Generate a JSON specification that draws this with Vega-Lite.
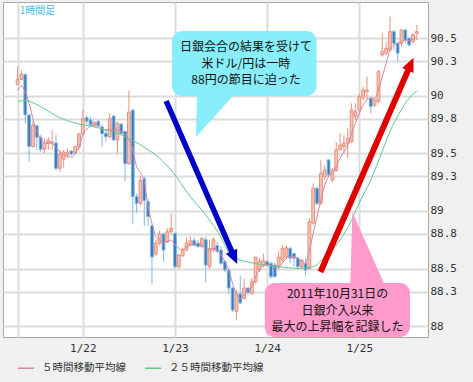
{
"$schema":"https://vega.github.io/schema/vega-lite/v6.json",
"width":425,"height":335,
"autosize":{"type":"none"},
"padding":{"left":3,"top":2,"right":45,"bottom":45},
"background":"#f0f0f0",
"config":{"view":{"stroke":"#a6a6a6","fill":"#ffffff"}},
"datasets":{
"candles":[
{"h":7,"o":90.1,"c":90.143,"hi":90.253,"lo":90.088,"d":"up"},
{"h":8,"o":90.143,"c":90.187,"hi":90.22,"lo":90.14,"d":"up"},
{"h":9,"o":90.187,"c":89.834,"hi":90.19,"lo":89.76,"d":"down"},
{"h":10,"o":89.834,"c":89.56,"hi":89.84,"lo":89.43,"d":"down"},
{"h":11,"o":89.56,"c":89.746,"hi":89.78,"lo":89.55,"d":"up"},
{"h":12,"o":89.74,"c":89.64,"hi":89.74,"lo":89.53,"d":"down"},
{"h":13,"o":89.64,"c":89.535,"hi":89.66,"lo":89.515,"d":"down"},
{"h":14,"o":89.535,"c":89.59,"hi":89.63,"lo":89.5,"d":"up"},
{"h":15,"o":89.585,"c":89.615,"hi":89.64,"lo":89.53,"d":"up"},
{"h":16,"o":89.59,"c":89.6,"hi":89.7,"lo":89.53,"d":"up"},
{"h":17,"o":89.59,"c":89.37,"hi":89.66,"lo":89.35,"d":"down"},
{"h":18,"o":89.37,"c":89.494,"hi":89.53,"lo":89.34,"d":"up"},
{"h":19,"o":89.45,"c":89.51,"hi":89.53,"lo":89.38,"d":"up"},
{"h":20,"o":89.49,"c":89.51,"hi":89.54,"lo":89.46,"d":"up"},
{"h":21,"o":89.52,"c":89.495,"hi":89.53,"lo":89.48,"d":"down"},
{"h":22,"o":89.505,"c":89.558,"hi":89.57,"lo":89.49,"d":"up"},
{"h":23,"o":89.558,"c":89.668,"hi":89.68,"lo":89.53,"d":"up"},
{"h":24,"o":89.668,"c":89.8,"hi":89.877,"lo":89.66,"d":"up"},
{"h":25,"o":89.81,"c":89.78,"hi":89.83,"lo":89.75,"d":"down"},
{"h":26,"o":89.79,"c":89.75,"hi":89.82,"lo":89.73,"d":"down"},
{"h":27,"o":89.74,"c":89.77,"hi":89.78,"lo":89.72,"d":"up"},
{"h":28,"o":89.776,"c":89.738,"hi":89.79,"lo":89.73,"d":"down"},
{"h":29,"o":89.73,"c":89.67,"hi":89.75,"lo":89.56,"d":"down"},
{"h":30,"o":89.674,"c":89.645,"hi":89.7,"lo":89.6,"d":"down"},
{"h":31,"o":89.645,"c":89.8,"hi":89.85,"lo":89.63,"d":"up"},
{"h":32,"o":89.825,"c":89.616,"hi":89.83,"lo":89.61,"d":"down"},
{"h":33,"o":89.616,"c":89.76,"hi":89.775,"lo":89.5,"d":"up"},
{"h":34,"o":89.755,"c":89.674,"hi":89.76,"lo":89.66,"d":"down"},
{"h":35,"o":89.69,"c":89.41,"hi":89.7,"lo":89.26,"d":"down"},
{"h":36,"o":89.41,"c":89.86,"hi":90.045,"lo":89.4,"d":"up"},
{"h":37,"o":89.877,"c":89.124,"hi":89.88,"lo":88.89,"d":"down"},
{"h":38,"o":89.124,"c":89.066,"hi":89.15,"lo":88.98,"d":"down"},
{"h":39,"o":89.066,"c":89.263,"hi":89.3,"lo":89.05,"d":"up"},
{"h":40,"o":89.28,"c":89.09,"hi":89.3,"lo":88.87,"d":"down"},
{"h":41,"o":89.08,"c":88.95,"hi":89.1,"lo":88.87,"d":"down"},
{"h":42,"o":88.87,"c":88.6,"hi":88.88,"lo":88.36,"d":"down"},
{"h":43,"o":88.626,"c":88.72,"hi":88.75,"lo":88.61,"d":"up"},
{"h":44,"o":88.72,"c":88.8,"hi":88.83,"lo":88.7,"d":"up"},
{"h":45,"o":88.8,"c":88.66,"hi":88.81,"lo":88.56,"d":"down"},
{"h":46,"o":88.73,"c":88.82,"hi":88.85,"lo":88.72,"d":"up"},
{"h":47,"o":88.82,"c":88.85,"hi":88.98,"lo":88.8,"d":"up"},
{"h":48,"o":88.805,"c":88.515,"hi":88.81,"lo":88.5,"d":"down"},
{"h":49,"o":88.515,"c":88.617,"hi":88.63,"lo":88.5,"d":"up"},
{"h":50,"o":88.61,"c":88.66,"hi":88.68,"lo":88.6,"d":"up"},
{"h":51,"o":88.66,"c":88.72,"hi":88.77,"lo":88.65,"d":"up"},
{"h":52,"o":88.705,"c":88.74,"hi":88.78,"lo":88.69,"d":"up"},
{"h":53,"o":88.745,"c":88.7,"hi":88.77,"lo":88.69,"d":"down"},
{"h":54,"o":88.72,"c":88.69,"hi":88.75,"lo":88.68,"d":"down"},
{"h":55,"o":88.69,"c":88.76,"hi":88.78,"lo":88.68,"d":"up"},
{"h":56,"o":88.75,"c":88.53,"hi":88.78,"lo":88.38,"d":"down"},
{"h":57,"o":88.515,"c":88.675,"hi":88.75,"lo":88.5,"d":"up"},
{"h":58,"o":88.66,"c":88.75,"hi":88.77,"lo":88.64,"d":"up"},
{"h":59,"o":88.7,"c":88.65,"hi":88.73,"lo":88.63,"d":"down"},
{"h":60,"o":88.66,"c":88.545,"hi":88.69,"lo":88.53,"d":"down"},
{"h":61,"o":88.56,"c":88.487,"hi":88.58,"lo":88.47,"d":"down"},
{"h":62,"o":88.487,"c":88.33,"hi":88.5,"lo":88.28,"d":"down"},
{"h":63,"o":88.33,"c":88.14,"hi":88.34,"lo":88.12,"d":"down"},
{"h":64,"o":88.125,"c":88.28,"hi":88.31,"lo":88.05,"d":"up"},
{"h":65,"o":88.28,"c":88.2,"hi":88.44,"lo":88.19,"d":"down"},
{"h":66,"o":88.24,"c":88.33,"hi":88.41,"lo":88.23,"d":"up"},
{"h":67,"o":88.33,"c":88.29,"hi":88.34,"lo":88.27,"d":"down"},
{"h":68,"o":88.285,"c":88.385,"hi":88.42,"lo":88.27,"d":"up"},
{"h":69,"o":88.385,"c":88.6,"hi":88.6,"lo":88.37,"d":"up"},
{"h":70,"o":88.49,"c":88.56,"hi":88.59,"lo":88.47,"d":"up"},
{"h":71,"o":88.53,"c":88.57,"hi":88.63,"lo":88.51,"d":"up"},
{"h":72,"o":88.56,"c":88.53,"hi":88.57,"lo":88.52,"d":"down"},
{"h":73,"o":88.545,"c":88.43,"hi":88.56,"lo":88.41,"d":"down"},
{"h":74,"o":88.53,"c":88.43,"hi":88.55,"lo":88.42,"d":"down"},
{"h":75,"o":88.515,"c":88.6,"hi":88.65,"lo":88.49,"d":"up"},
{"h":76,"o":88.575,"c":88.675,"hi":88.7,"lo":88.56,"d":"up"},
{"h":77,"o":88.6,"c":88.68,"hi":88.7,"lo":88.59,"d":"up"},
{"h":78,"o":88.675,"c":88.59,"hi":88.69,"lo":88.545,"d":"down"},
{"h":79,"o":88.63,"c":88.59,"hi":88.64,"lo":88.52,"d":"down"},
{"h":80,"o":88.59,"c":88.516,"hi":88.6,"lo":88.49,"d":"down"},
{"h":81,"o":88.516,"c":88.574,"hi":88.58,"lo":88.5,"d":"up"},
{"h":82,"o":88.545,"c":88.487,"hi":88.59,"lo":88.43,"d":"down"},
{"h":83,"o":88.5,"c":88.907,"hi":88.936,"lo":88.49,"d":"up"},
{"h":84,"o":88.893,"c":89.197,"hi":89.24,"lo":88.88,"d":"up"},
{"h":85,"o":89.197,"c":89.066,"hi":89.21,"lo":89.05,"d":"down"},
{"h":86,"o":89.066,"c":89.327,"hi":89.44,"lo":89.05,"d":"up"},
{"h":87,"o":89.3,"c":89.356,"hi":89.4,"lo":89.27,"d":"up"},
{"h":88,"o":89.443,"c":89.312,"hi":89.45,"lo":89.3,"d":"down"},
{"h":89,"o":89.269,"c":89.356,"hi":89.37,"lo":89.25,"d":"up"},
{"h":90,"o":89.35,"c":89.53,"hi":89.6,"lo":89.34,"d":"up"},
{"h":91,"o":89.53,"c":89.573,"hi":89.675,"lo":89.53,"d":"up"},
{"h":92,"o":89.559,"c":89.588,"hi":89.66,"lo":89.5,"d":"up"},
{"h":93,"o":89.588,"c":89.631,"hi":89.72,"lo":89.46,"d":"up"},
{"h":94,"o":89.602,"c":89.877,"hi":89.935,"lo":89.59,"d":"up"},
{"h":95,"o":89.82,"c":89.862,"hi":89.935,"lo":89.79,"d":"up"},
{"h":96,"o":89.877,"c":89.993,"hi":90.02,"lo":89.86,"d":"up"},
{"h":97,"o":89.98,"c":90.05,"hi":90.08,"lo":89.96,"d":"up"},
{"h":98,"o":90.036,"c":90.05,"hi":90.167,"lo":89.964,"d":"up"},
{"h":99,"o":89.979,"c":89.906,"hi":89.993,"lo":89.85,"d":"down"},
{"h":100,"o":89.92,"c":89.964,"hi":89.98,"lo":89.9,"d":"up"},
{"h":101,"o":89.95,"c":90.21,"hi":90.225,"lo":89.935,"d":"up"},
{"h":102,"o":90.355,"c":90.384,"hi":90.543,"lo":90.34,"d":"up"},
{"h":103,"o":90.37,"c":90.413,"hi":90.47,"lo":90.355,"d":"up"},
{"h":104,"o":90.398,"c":90.558,"hi":90.688,"lo":90.384,"d":"up"},
{"h":105,"o":90.558,"c":90.456,"hi":90.572,"lo":90.398,"d":"down"},
{"h":106,"o":90.456,"c":90.37,"hi":90.47,"lo":90.3,"d":"down"},
{"h":107,"o":90.456,"c":90.572,"hi":90.578,"lo":90.427,"d":"up"},
{"h":108,"o":90.572,"c":90.485,"hi":90.578,"lo":90.456,"d":"down"},
{"h":109,"o":90.5,"c":90.442,"hi":90.51,"lo":90.427,"d":"down"},
{"h":110,"o":90.47,"c":90.53,"hi":90.543,"lo":90.456,"d":"up"},
{"h":111,"o":90.543,"c":90.558,"hi":90.615,"lo":90.485,"d":"up"}
],
"ma":[
{"h":7,"s":"５時間移動平均線","v":90.045},{"h":8,"s":"５時間移動平均線","v":90.085},{"h":9,"s":"５時間移動平均線","v":90.036},{"h":10,"s":"５時間移動平均線","v":89.935},{"h":11,"s":"５時間移動平均線","v":89.8},{"h":12,"s":"５時間移動平均線","v":89.69},{"h":13,"s":"５時間移動平均線","v":89.63},{"h":14,"s":"５時間移動平均線","v":89.593},{"h":15,"s":"５時間移動平均線","v":89.593},{"h":16,"s":"５時間移動平均線","v":89.587},{"h":17,"s":"５時間移動平均線","v":89.55},{"h":18,"s":"５時間移動平均線","v":89.515},{"h":19,"s":"５時間移動平均線","v":89.486},{"h":20,"s":"５時間移動平均線","v":89.477},{"h":21,"s":"５時間移動平均線","v":89.466},{"h":22,"s":"５時間移動平均線","v":89.5},{"h":23,"s":"５時間移動平均線","v":89.558},{"h":24,"s":"５時間移動平均線","v":89.66},{"h":25,"s":"５時間移動平均線","v":89.71},{"h":26,"s":"５時間移動平均線","v":89.737},{"h":27,"s":"５時間移動平均線","v":89.752},{"h":28,"s":"５時間移動平均線","v":89.746},{"h":29,"s":"５時間移動平均線","v":89.717},{"h":30,"s":"５時間移動平均線","v":89.703},{"h":31,"s":"５時間移動平均線","v":89.71},{"h":32,"s":"５時間移動平均線","v":89.703},{"h":33,"s":"５時間移動平均線","v":89.703},{"h":34,"s":"５時間移動平均線","v":89.69},{"h":35,"s":"５時間移動平均線","v":89.66},{"h":36,"s":"５時間移動平均線","v":89.62},{"h":37,"s":"５時間移動平均線","v":89.53},{"h":38,"s":"５時間移動平均線","v":89.385},{"h":39,"s":"５時間移動平均線","v":89.33},{"h":40,"s":"５時間移動平均線","v":89.254},{"h":41,"s":"５時間移動平均線","v":89.037},{"h":42,"s":"５時間移動平均線","v":88.892},{"h":43,"s":"５時間移動平均線","v":88.776},{"h":44,"s":"５時間移動平均線","v":88.747},{"h":45,"s":"５時間移動平均線","v":88.724},{"h":46,"s":"５時間移動平均線","v":88.733},{"h":47,"s":"５時間移動平均線","v":88.747},{"h":48,"s":"５時間移動平均線","v":88.704},{"h":49,"s":"５時間移動平均線","v":88.675},{"h":50,"s":"５時間移動平均線","v":88.66},{"h":51,"s":"５時間移動平均線","v":88.684},{"h":52,"s":"５時間移動平均線","v":88.704},{"h":53,"s":"５時間移動平均線","v":88.718},{"h":54,"s":"５時間移動平均線","v":88.718},{"h":55,"s":"５時間移動平均線","v":88.704},{"h":56,"s":"５時間移動平均線","v":88.675},{"h":57,"s":"５時間移動平均線","v":88.66},{"h":58,"s":"５時間移動平均線","v":88.675},{"h":59,"s":"５時間移動平均線","v":88.666},{"h":60,"s":"５時間移動平均線","v":88.617},{"h":61,"s":"５時間移動平均線","v":88.559},{"h":62,"s":"５時間移動平均線","v":88.487},{"h":63,"s":"５時間移動平均線","v":88.371},{"h":64,"s":"５時間移動平均線","v":88.284},{"h":65,"s":"５時間移動平均線","v":88.24},{"h":66,"s":"５時間移動平均線","v":88.27},{"h":67,"s":"５時間移動平均線","v":88.313},{"h":68,"s":"５時間移動平均線","v":88.342},{"h":69,"s":"５時間移動平均線","v":88.43},{"h":70,"s":"５時間移動平均線","v":88.487},{"h":71,"s":"５時間移動平均線","v":88.53},{"h":72,"s":"５時間移動平均線","v":88.539},{"h":73,"s":"５時間移動平均線","v":88.53},{"h":74,"s":"５時間移動平均線","v":88.51},{"h":75,"s":"５時間移動平均線","v":88.516},{"h":76,"s":"５時間移動平均線","v":88.55},{"h":77,"s":"５時間移動平均線","v":88.588},{"h":78,"s":"５時間移動平均線","v":88.603},{"h":79,"s":"５時間移動平均線","v":88.603},{"h":80,"s":"５時間移動平均線","v":88.588},{"h":81,"s":"５時間移動平均線","v":88.56},{"h":82,"s":"５時間移動平均線","v":88.545},{"h":83,"s":"５時間移動平均線","v":88.66},{"h":84,"s":"５時間移動平均線","v":88.806},{"h":85,"s":"５時間移動平均線","v":88.95},{"h":86,"s":"５時間移動平均線","v":89.095},{"h":87,"s":"５時間移動平均線","v":89.225},{"h":88,"s":"５時間移動平均線","v":89.298},{"h":89,"s":"５時間移動平均線","v":89.327},{"h":90,"s":"５時間移動平均線","v":89.385},{"h":91,"s":"５時間移動平均線","v":89.457},{"h":92,"s":"５時間移動平均線","v":89.515},{"h":93,"s":"５時間移動平均線","v":89.573},{"h":94,"s":"５時間移動平均線","v":89.675},{"h":95,"s":"５時間移動平均線","v":89.761},{"h":96,"s":"５時間移動平均線","v":89.848},{"h":97,"s":"５時間移動平均線","v":89.921},{"h":98,"s":"５時間移動平均線","v":89.964},{"h":99,"s":"５時間移動平均線","v":89.979},{"h":100,"s":"５時間移動平均線","v":89.979},{"h":101,"s":"５時間移動平均線","v":90.05},{"h":102,"s":"５時間移動平均線","v":90.167},{"h":103,"s":"５時間移動平均線","v":90.283},{"h":104,"s":"５時間移動平均線","v":90.398},{"h":105,"s":"５時間移動平均線","v":90.442},{"h":106,"s":"５時間移動平均線","v":90.456},{"h":107,"s":"５時間移動平均線","v":90.47},{"h":108,"s":"５時間移動平均線","v":90.485},{"h":109,"s":"５時間移動平均線","v":90.48},{"h":110,"s":"５時間移動平均線","v":90.49},{"h":111,"s":"５時間移動平均線","v":90.514},
{"h":7,"s":"２５時間移動平均線","v":89.955},{"h":9,"s":"２５時間移動平均線","v":89.958},{"h":11,"s":"２５時間移動平均線","v":89.94},{"h":13,"s":"２５時間移動平均線","v":89.906},{"h":15,"s":"２５時間移動平均線","v":89.868},{"h":17,"s":"２５時間移動平均線","v":89.827},{"h":19,"s":"２５時間移動平均線","v":89.796},{"h":21,"s":"２５時間移動平均線","v":89.773},{"h":23,"s":"２５時間移動平均線","v":89.755},{"h":25,"s":"２５時間移動平均線","v":89.743},{"h":27,"s":"２５時間移動平均線","v":89.732},{"h":29,"s":"２５時間移動平均線","v":89.712},{"h":31,"s":"２５時間移動平均線","v":89.694},{"h":33,"s":"２５時間移動平均線","v":89.674},{"h":35,"s":"２５時間移動平均線","v":89.645},{"h":37,"s":"２５時間移動平均線","v":89.61},{"h":39,"s":"２５時間移動平均線","v":89.575},{"h":40,"s":"２５時間移動平均線","v":89.552},{"h":43,"s":"２５時間移動平均線","v":89.486},{"h":47,"s":"２５時間移動平均線","v":89.355},{"h":52,"s":"２５時間移動平均線","v":89.124},{"h":56,"s":"２５時間移動平均線","v":88.965},{"h":60,"s":"２５時間移動平均線","v":88.77},{"h":62,"s":"２５時間移動平均線","v":88.64},{"h":65,"s":"２５時間移動平均線","v":88.574},{"h":68,"s":"２５時間移動平均線","v":88.55},{"h":71,"s":"２５時間移動平均線","v":88.53},{"h":75,"s":"２５時間移動平均線","v":88.516},{"h":80,"s":"２５時間移動平均線","v":88.502},{"h":84,"s":"２５時間移動平均線","v":88.516},{"h":87,"s":"２５時間移動平均線","v":88.603},{"h":91,"s":"２５時間移動平均線","v":88.748},{"h":94,"s":"２５時間移動平均線","v":88.92},{"h":96,"s":"２５時間移動平均線","v":89.07},{"h":99,"s":"２５時間移動平均線","v":89.269},{"h":102,"s":"２５時間移動平均線","v":89.52},{"h":104,"s":"２５時間移動平均線","v":89.69},{"h":107,"s":"２５時間移動平均線","v":89.88},{"h":109,"s":"２５時間移動平均線","v":89.98},{"h":111,"s":"２５時間移動平均線","v":90.04}
]
},
"layer":[
{"data":{"name":"candles"},"mark":{"type":"rule","strokeWidth":1},
 "encoding":{
  "x":{"field":"h","type":"quantitative","title":null,"scale":{"domain":[4.5,112.6],"nice":false,"zero":false},
   "axis":{"orient":"bottom","values":[7,24,48,72,96],"tickCount":30,"labelExpr":"datum.value==24?'1/22':datum.value==48?'1/23':datum.value==72?'1/24':datum.value==96?'1/25':''","labelOverlap":false,"title":null,"grid":true,"gridColor":"#dcdcdc","gridWidth":2,"ticks":false,"domain":false,"labelFont":"DejaVu Sans Mono","labelFontSize":11,"labelColor":"#333333","labelPadding":5}},
  "y":{"field":"lo","type":"quantitative","title":null,"scale":{"domain":[87.905,90.815],"nice":false,"zero":false},
   "axis":{"orient":"right","values":[88,88.3,88.5,88.8,89,89.3,89.5,89.8,90,90.3,90.5],"tickCount":30,"format":"~g","labelOverlap":false,"title":null,"grid":true,"gridColor":"#dcdcdc","gridWidth":2,"ticks":false,"domain":false,"labelFont":"DejaVu Sans Mono","labelFontSize":11,"labelColor":"#333333","labelPadding":2}},
  "y2":{"field":"hi"},
  "stroke":{"field":"d","type":"nominal","scale":{"domain":["up","down"],"range":["#e8917e","#86b6e2"]},"legend":null}
 }},
{"data":{"name":"candles"},"mark":{"type":"bar","size":2.8,"strokeWidth":1},
 "encoding":{
  "x":{"field":"h","type":"quantitative","title":null},
  "y":{"field":"o","type":"quantitative","title":null},
  "y2":{"field":"c"},
  "fill":{"field":"d","type":"nominal","scale":{"domain":["up","down"],"range":["#f7c2b2","#3479bf"]},"legend":null},
  "stroke":{"field":"d","type":"nominal","scale":{"domain":["up","down"],"range":["#e0705a","#3479bf"]},"legend":null}
 }},
{"data":{"name":"ma"},"mark":{"type":"line","strokeWidth":1,"interpolate":"monotone"},
 "encoding":{
  "x":{"field":"h","type":"quantitative","title":null},
  "y":{"field":"v","type":"quantitative","title":null},
  "color":{"field":"s","type":"nominal","scale":{"domain":["５時間移動平均線","２５時間移動平均線"],"range":["#d286a6","#5ecb8e"]},
   "legend":{"orient":"none","legendX":14,"legendY":357,"direction":"horizontal","title":null,"symbolType":"stroke","symbolSize":256,"symbolStrokeWidth":1.5,"labelFont":"Noto Sans CJK JP","labelFontSize":10.5,"labelColor":"#333333","labelOffset":7,"columnPadding":16,"padding":0}}
 }},
{"data":{"values":[{}]},"mark":{"type":"rule","color":"#0000c8","strokeWidth":5.5},
 "encoding":{"x":{"datum":45.7,"type":"quantitative","title":null},"y":{"datum":89.955,"type":"quantitative","title":null},"x2":{"datum":62.95},"y2":{"datum":88.635}}},
{"data":{"values":[{}]},"mark":{"type":"point","shape":"M0,0L0.75,1.7L-0.75,1.7Z","size":272,"angle":156,"filled":true,"opacity":1,"color":"#0000c8","strokeWidth":0},
 "encoding":{"x":{"datum":64.2,"type":"quantitative","title":null},"y":{"datum":88.539,"type":"quantitative","title":null}}},
{"data":{"values":[{}]},"mark":{"type":"rule","color":"#e00000","strokeWidth":6},
 "encoding":{"x":{"datum":85.89,"type":"quantitative","title":null},"y":{"datum":88.47,"type":"quantitative","title":null},"x2":{"datum":108.89},"y2":{"datum":90.236}}},
{"data":{"values":[{}]},"mark":{"type":"point","shape":"M0,0L0.75,1.7L-0.75,1.7Z","size":272,"angle":24,"filled":true,"opacity":1,"color":"#e00000","strokeWidth":0},
 "encoding":{"x":{"datum":110.13,"type":"quantitative","title":null},"y":{"datum":90.331,"type":"quantitative","title":null}}},
{"data":{"values":[{}]},"mark":{"type":"rect","color":"#88eefc","cornerRadius":10},
 "encoding":{"x":{"datum":47.23,"type":"quantitative","title":null},"x2":{"datum":84.87},"y":{"datum":90.563,"type":"quantitative","title":null},"y2":{"datum":89.999}}},
{"data":{"values":[{}]},"mark":{"type":"point","shape":"M-0.854,-1.15L0.902,-1.15L0.902,-1L-0.902,1Z","size":1681,"filled":true,"opacity":1,"color":"#88eefc","strokeWidth":0},
 "encoding":{"x":{"datum":58.29,"type":"quantitative","title":null},"y":{"datum":89.821,"type":"quantitative","title":null}}},
{"data":{"values":[{}]},"mark":{"type":"text","text":["日銀会合の結果を受けて","米ドル/円は一時","88円の節目に迫った"],"font":"Noto Sans CJK JP","fontSize":12,"lineHeight":16.5,"color":"#111111","align":"center","baseline":"middle"},
 "encoding":{"x":{"datum":66.49,"type":"quantitative","title":null},"y":{"datum":90.42,"type":"quantitative","title":null}}},
{"data":{"values":[{}]},"mark":{"type":"rect","color":"#ff9acb","cornerRadius":10},
 "encoding":{"x":{"datum":71.39,"type":"quantitative","title":null},"x2":{"datum":109.2},"y":{"datum":88.374,"type":"quantitative","title":null},"y2":{"datum":87.905}}},
{"data":{"values":[{}]},"mark":{"type":"point","shape":"M-0.493,1.1L0.493,1.1L-0.437,-1Z","size":5041,"filled":true,"opacity":1,"color":"#ff9acb","strokeWidth":0},
 "encoding":{"x":{"datum":98.23,"type":"quantitative","title":null},"y":{"datum":88.682,"type":"quantitative","title":null}}},
{"data":{"values":[{}]},"mark":{"type":"text","text":["2011年10月31日の","日銀介入以来","最大の上昇幅を記録した"],"font":"Noto Sans CJK JP","fontSize":12,"lineHeight":16.5,"color":"#111111","align":"center","baseline":"middle"},
 "encoding":{"x":{"datum":90.35,"type":"quantitative","title":null},"y":{"datum":88.278,"type":"quantitative","title":null}}},
{"data":{"values":[{}]},"mark":{"type":"text","text":"1時間足","font":"Noto Sans CJK JP","fontSize":10,"color":"#44bbee","align":"left","baseline":"middle"},
 "encoding":{"x":{"datum":7.55,"type":"quantitative","title":null},"y":{"datum":90.737,"type":"quantitative","title":null}}}
]
}
